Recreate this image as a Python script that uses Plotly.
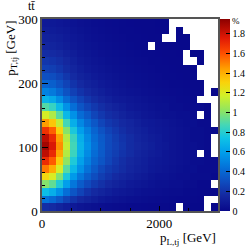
import plotly.graph_objects as go

# bin centres (GeV)
X_CENTERS = [60, 180, 300, 420, 540, 660, 780, 900, 1020, 1140, 1260, 1380, 1500,
             1620, 1740, 1860, 1980, 2100, 2220, 2340, 2460, 2580, 2700, 2820, 2940]
Y_CENTERS = [6, 18, 30, 42, 54, 66, 78, 90, 102, 114, 126, 138, 150,
             162, 174, 186, 198, 210, 222, 234, 246, 258, 270, 282, 294]

# fraction of events (%) per bin, rows = y bins from bottom (0..24), cols = x bins
Z_PERCENT = [
    [0.18, 0.165, 0.135, 0.105, 0.083, 0.065, 0.053, 0.042, 0.035, 0.029, 0.024, 0.02, 0.017, 0.014, 0.012, 0.01, 0.009, 0.008, 0.006, 0.005, 0.004, 0.003, 0.003, 0.003, 0.002],
    [0.45, 0.41, 0.34, 0.26, 0.20, 0.155, 0.13, 0.105, 0.083, 0.07, 0.059, 0.047, 0.041, 0.035, 0.03, 0.024, 0.021, 0.018, 0.014, 0.012, 0.011, 0.008, 0.007, 0.006, 0.005],
    [0.72, 0.66, 0.55, 0.43, 0.33, 0.26, 0.20, 0.16, 0.135, 0.11, 0.09, 0.08, 0.067, 0.056, 0.045, 0.039, 0.034, 0.028, 0.022, 0.022, 0.017, 0.013, 0.011, 0.009, 0.008],
    [1.00, 0.93, 0.78, 0.60, 0.46, 0.36, 0.29, 0.23, 0.19, 0.155, 0.13, 0.11, 0.09, 0.078, 0.066, 0.055, 0.045, 0.044, 0.033, 0.033, 0.022, 0.022, 0.011, 0.011, 0.011],
    [1.28, 1.19, 0.99, 0.77, 0.58, 0.46, 0.37, 0.30, 0.24, 0.20, 0.165, 0.14, 0.12, 0.10, 0.088, 0.066, 0.055, 0.055, 0.044, 0.033, 0.033, 0.022, 0.022, 0.022, 0.011],
    [1.52, 1.41, 1.18, 0.91, 0.70, 0.55, 0.44, 0.35, 0.28, 0.23, 0.20, 0.17, 0.14, 0.12, 0.105, 0.084, 0.074, 0.063, 0.053, 0.042, 0.032, 0.032, 0.021, 0.021, 0.021],
    [1.70, 1.58, 1.32, 1.02, 0.78, 0.61, 0.49, 0.39, 0.33, 0.27, 0.22, 0.18, 0.15, 0.13, 0.11, 0.09, 0.08, 0.07, 0.06, 0.05, 0.04, 0.03, 0.03, 0.02, 0.02],
    [1.84, 1.71, 1.43, 1.10, 0.85, 0.66, 0.53, 0.42, 0.35, 0.28, 0.24, 0.20, 0.17, 0.14, 0.12, 0.10, 0.09, 0.07, 0.06, 0.05, 0.04, 0.03, 0.03, 0.02, 0.02],
    [1.90, 1.77, 1.48, 1.14, 0.87, 0.68, 0.55, 0.44, 0.36, 0.29, 0.25, 0.21, 0.17, 0.15, 0.13, 0.11, 0.09, 0.08, 0.06, 0.05, 0.04, 0.04, 0.03, 0.02, 0.02],
    [1.84, 1.71, 1.44, 1.10, 0.85, 0.66, 0.53, 0.42, 0.35, 0.29, 0.24, 0.20, 0.17, 0.14, 0.12, 0.10, 0.09, 0.07, 0.06, 0.05, 0.04, 0.03, 0.03, 0.02, 0.02],
    [1.68, 1.57, 1.31, 1.00, 0.77, 0.60, 0.49, 0.39, 0.32, 0.26, 0.22, 0.18, 0.15, 0.13, 0.11, 0.09, 0.08, 0.07, 0.06, 0.05, 0.04, 0.03, 0.03, 0.02, 0.02],
    [1.45, 1.34, 1.13, 0.87, 0.66, 0.52, 0.42, 0.34, 0.27, 0.22, 0.19, 0.16, 0.14, 0.115, 0.095, 0.084, 0.074, 0.063, 0.053, 0.042, 0.032, 0.032, 0.021, 0.021, 0.021],
    [1.18, 1.09, 0.91, 0.70, 0.55, 0.42, 0.35, 0.27, 0.22, 0.18, 0.16, 0.13, 0.105, 0.095, 0.074, 0.063, 0.053, 0.042, 0.042, 0.032, 0.032, 0.021, 0.021, 0.011, 0.011],
    [0.90, 0.84, 0.71, 0.55, 0.43, 0.33, 0.27, 0.22, 0.18, 0.15, 0.125, 0.105, 0.085, 0.073, 0.063, 0.052, 0.042, 0.042, 0.031, 0.031, 0.021, 0.021, 0.021, 0.01, 0.01],
    [0.68, 0.64, 0.54, 0.42, 0.33, 0.265, 0.21, 0.17, 0.14, 0.117, 0.095, 0.085, 0.074, 0.064, 0.053, 0.042, 0.037, 0.032, 0.027, 0.021, 0.019, 0.016, 0.013, 0.011, 0.008],
    [0.50, 0.47, 0.40, 0.32, 0.25, 0.20, 0.165, 0.135, 0.11, 0.09, 0.075, 0.065, 0.055, 0.047, 0.04, 0.034, 0.029, 0.025, 0.021, 0.018, 0.015, 0.012, 0.01, 0.009, 0.007],
    [0.39, 0.37, 0.32, 0.26, 0.20, 0.16, 0.13, 0.11, 0.09, 0.075, 0.063, 0.054, 0.046, 0.039, 0.033, 0.028, 0.024, 0.02, 0.017, 0.015, 0.012, 0.01, 0.009, 0.007, 0.006],
    [0.31, 0.30, 0.26, 0.21, 0.165, 0.13, 0.11, 0.09, 0.075, 0.063, 0.053, 0.045, 0.038, 0.032, 0.027, 0.023, 0.02, 0.017, 0.014, 0.012, 0.01, 0.009, 0.007, 0.006, 0.005],
    [0.25, 0.24, 0.21, 0.17, 0.14, 0.11, 0.09, 0.075, 0.063, 0.053, 0.045, 0.038, 0.032, 0.027, 0.023, 0.02, 0.017, 0.014, 0.012, 0.01, 0.009, 0.007, 0.006, 0.005, 0.004],
    [0.21, 0.20, 0.18, 0.15, 0.12, 0.095, 0.078, 0.065, 0.054, 0.045, 0.038, 0.032, 0.027, 0.023, 0.02, 0.017, 0.014, 0.012, 0.01, 0.009, 0.007, 0.006, 0.005, 0.004, 0.004],
    [0.17, 0.165, 0.15, 0.12, 0.10, 0.08, 0.066, 0.055, 0.046, 0.038, 0.032, 0.027, 0.023, 0.019, 0.016, 0.014, 0.012, 0.01, 0.009, 0.007, 0.006, 0.005, 0.004, 0.004, 0.003],
    [0.14, 0.135, 0.12, 0.10, 0.085, 0.07, 0.057, 0.047, 0.039, 0.033, 0.027, 0.023, 0.019, 0.016, 0.014, 0.012, 0.01, 0.009, 0.007, 0.006, 0.005, 0.004, 0.004, 0.003, 0.003],
    [0.12, 0.115, 0.105, 0.09, 0.075, 0.062, 0.05, 0.041, 0.034, 0.028, 0.024, 0.02, 0.017, 0.014, 0.012, 0.01, 0.009, 0.007, 0.006, 0.005, 0.004, 0.004, 0.003, 0.003, 0.002],
    [0.10, 0.097, 0.088, 0.076, 0.064, 0.053, 0.043, 0.035, 0.029, 0.024, 0.02, 0.017, 0.014, 0.012, 0.01, 0.009, 0.007, 0.006, 0.005, 0.004, 0.004, 0.003, 0.003, 0.002, 0.002],
    [0.085, 0.082, 0.075, 0.065, 0.055, 0.046, 0.038, 0.031, 0.026, 0.021, 0.018, 0.015, 0.012, 0.01, 0.009, 0.008, 0.006, 0.005, 0.004, 0.004, 0.003, 0.003, 0.002, 0.002, 0.002],
]

# empty bins: y-bin index -> list of x-bin indices
EMPTY_BINS = {
    24: [18, 19, 20, 21, 22, 23, 24],
    23: [18, 20, 21, 22, 23, 24],
    22: [17, 18, 21, 22, 23, 24],
    21: [15, 21, 22, 23, 24],
    20: [20, 23, 24],
    19: [20, 21, 23, 24],
    18: [22, 23, 24],
    17: [22, 23, 24],
    16: [23, 24],
    15: [23],
    14: [22, 23, 24],
    13: [24],
    12: [22, 24],
    11: [24],
    9: [24],
    8: [24],
    7: [22, 24],
    3: [24],
    1: [23, 24],
    0: [19, 23],
}

CBAR_TICKS = [0, 0.2, 0.4, 0.6, 0.8, 1.0, 1.2, 1.4, 1.6, 1.8]
CBAR_LABELS = ["0", "0.2", "0.4", "0.6", "0.8", "1", "1.2", "1.4", "1.6", "1.8"]

z = [list(row) for row in Z_PERCENT]
for j, cols in EMPTY_BINS.items():
    for i in cols:
        z[j][i] = None

colorscale = [
    [0.00, "rgb(8,8,138)"],
    [0.08, "rgb(20,40,160)"],
    [0.15, "rgb(15,75,190)"],
    [0.22, "rgb(5,110,215)"],
    [0.30, "rgb(0,155,235)"],
    [0.38, "rgb(15,195,230)"],
    [0.45, "rgb(70,215,180)"],
    [0.52, "rgb(140,228,100)"],
    [0.60, "rgb(210,240,40)"],
    [0.67, "rgb(250,210,10)"],
    [0.74, "rgb(255,160,0)"],
    [0.82, "rgb(255,80,0)"],
    [0.90, "rgb(225,25,5)"],
    [1.00, "rgb(140,0,0)"],
]

SERIF = "Liberation Serif"

fig = go.Figure(go.Heatmap(
    x=X_CENTERS, y=Y_CENTERS, z=z,
    zmin=0, zmax=1.95, colorscale=colorscale,
    colorbar=dict(
        x=1.01, xanchor="left", y=0.5, yanchor="middle", len=1.0,
        thickness=10, outlinewidth=0, xpad=0, ypad=0,
        tickvals=CBAR_TICKS, ticktext=CBAR_LABELS,
        ticks="inside", ticklen=4, tickcolor="black",
        tickfont=dict(family=SERIF, size=10, color="black"),
    ),
    hoverongaps=False,
))

axis_common = dict(
    showgrid=False, zeroline=False, showline=True, linecolor="#555555",
    linewidth=1.5, mirror=True, ticks="inside", tickcolor="black",
    tickwidth=1, tickfont=dict(family=SERIF, size=13, color="black"),
)

fig.update_layout(
    width=248, height=249,
    margin=dict(l=42, r=30, t=19, b=38, autoexpand=False),
    paper_bgcolor="white", plot_bgcolor="white",
    xaxis=dict(range=[0, 3000], tickvals=[0, 2000], ticktext=["0", "2000"], ticklen=5,
               minor=dict(tickvals=[500, 1000, 1500, 2500], ticklen=3, ticks="inside",
                          tickcolor="black"),
               **axis_common),
    yaxis=dict(range=[0, 300], tickvals=[0, 100, 200, 300], ticklen=6,
               minor=dict(dtick=20, ticklen=3, ticks="inside", tickcolor="black"),
               **axis_common),
    showlegend=False,
)

fig.add_annotation(text="p<sub>T,tj</sub> [GeV]", xref="paper", yref="paper",
                   x=-0.175, y=1.0, xanchor="center", yanchor="top", textangle=-90,
                   showarrow=False, font=dict(family=SERIF, size=13, color="black"))
fig.add_annotation(text="p<sub>L,tj</sub> [GeV]", xref="paper", yref="paper",
                   x=1.0, y=-0.09, xanchor="right", yanchor="top",
                   showarrow=False, font=dict(family=SERIF, size=13, color="black"))
fig.add_annotation(text="tt\u0304", xref="paper", yref="paper",
                   x=-0.057, y=1.068, xanchor="center", yanchor="middle",
                   showarrow=False, font=dict(family=SERIF, size=12, color="black"))
fig.add_annotation(text="%", xref="paper", yref="paper",
                   x=1.10, y=0.99, xanchor="center", yanchor="middle",
                   showarrow=False, font=dict(family=SERIF, size=9, color="black"))

fig.write_html("out.html", config={"displayModeBar": False},
               post_script="document.body.style.margin='0px';")
